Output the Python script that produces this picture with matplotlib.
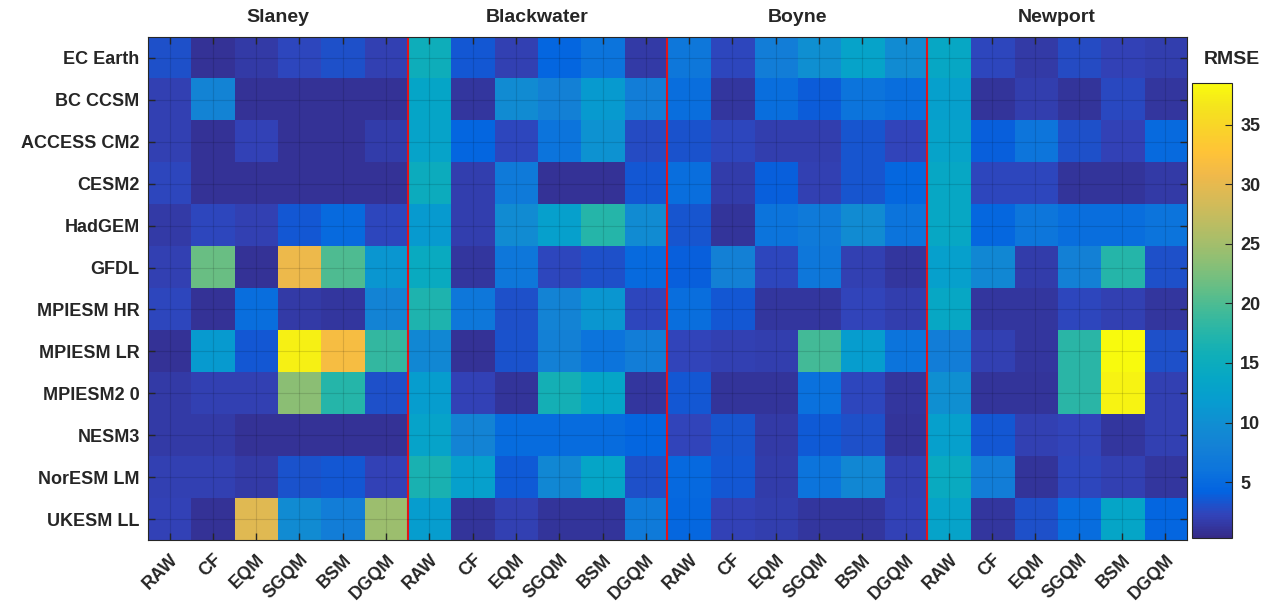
import numpy as np
import matplotlib.pyplot as plt
from matplotlib.colors import LinearSegmentedColormap

plt.rcParams['font.family'] = ['Liberation Sans', 'DejaVu Sans']
plt.rcParams['text.color'] = '#262626'
plt.rcParams['xtick.color'] = '#262626'
plt.rcParams['ytick.color'] = '#262626'

# data
models = ['EC Earth', 'BC CCSM', 'ACCESS CM2', 'CESM2', 'HadGEM', 'GFDL',
          'MPIESM HR', 'MPIESM LR', 'MPIESM2 0', 'NESM3', 'NorESM LM', 'UKESM LL']
methods = ['RAW', 'CF', 'EQM', 'SGQM', 'BSM', 'DGQM']
sites = ['Slaney', 'Blackwater', 'Boyne', 'Newport']

slaney = [
    [3.0, 1.0, 1.5, 2.5, 3.0, 2.0],
    [2.0, 8.5, 1.0, 1.0, 1.0, 1.0],
    [2.0, 1.0, 2.2, 1.0, 1.0, 1.7],
    [2.5, 1.0, 1.0, 1.0, 1.0, 1.0],
    [1.5, 2.5, 2.0, 3.5, 5.0, 2.5],
    [2.0, 21.5, 1.0, 30.5, 20.0, 11.0],
    [2.5, 1.0, 5.5, 1.5, 1.2, 8.5],
    [1.0, 11.5, 3.5, 37.5, 31.5, 18.5],
    [1.5, 2.0, 2.0, 23.5, 17.5, 3.0],
    [1.5, 1.5, 1.0, 1.0, 1.0, 1.0],
    [2.0, 2.0, 1.5, 3.2, 3.5, 2.2],
    [2.2, 1.0, 29.5, 9.5, 7.5, 24.5],
]
blackwater = [
    [15.5, 3.5, 2.0, 4.5, 6.0, 1.5],
    [13.5, 1.2, 9.5, 8.0, 11.5, 7.5],
    [13.0, 4.5, 2.5, 6.0, 10.5, 2.8],
    [15.0, 1.8, 7.0, 1.0, 1.0, 3.5],
    [11.5, 1.8, 9.5, 12.5, 17.5, 9.5],
    [14.5, 1.2, 6.5, 2.5, 3.0, 5.0],
    [17.0, 6.5, 3.0, 8.5, 11.0, 2.5],
    [9.0, 1.0, 3.2, 8.0, 6.0, 7.5],
    [12.0, 2.2, 1.1, 16.0, 13.5, 1.3],
    [13.0, 8.5, 5.2, 5.2, 5.2, 4.5],
    [16.5, 12.5, 3.7, 9.0, 13.5, 3.0],
    [12.0, 1.1, 2.0, 1.1, 1.1, 7.0],
]
boyne = [
    [6.5, 2.5, 7.5, 10.0, 13.0, 9.5],
    [5.5, 1.2, 5.5, 3.8, 6.0, 5.5],
    [3.2, 2.5, 1.8, 1.8, 3.3, 2.3],
    [5.5, 1.7, 4.0, 2.0, 3.3, 4.7],
    [3.3, 1.1, 6.0, 7.0, 9.5, 6.0],
    [4.0, 8.0, 2.5, 6.5, 2.0, 1.3],
    [5.5, 3.5, 1.2, 1.2, 2.3, 1.8],
    [2.3, 2.0, 1.8, 19.5, 12.0, 6.0],
    [3.5, 1.1, 1.1, 5.7, 2.5, 1.2],
    [2.3, 3.3, 1.6, 3.6, 3.1, 1.1],
    [4.8, 3.5, 1.7, 6.0, 9.0, 2.0],
    [4.7, 2.2, 1.8, 1.2, 1.2, 2.2],
]
newport = [
    [14.0, 2.5, 1.5, 2.7, 2.2, 1.8],
    [12.5, 1.1, 1.8, 1.1, 2.6, 1.2],
    [13.0, 4.0, 6.2, 3.0, 2.2, 5.0],
    [14.0, 2.5, 2.4, 1.1, 1.1, 1.6],
    [14.0, 4.7, 6.3, 5.5, 5.5, 6.0],
    [12.5, 9.0, 1.7, 8.0, 17.5, 3.0],
    [14.0, 1.2, 1.3, 2.5, 2.0, 1.3],
    [7.5, 2.0, 1.2, 17.8, 38.5, 3.0],
    [10.0, 1.1, 1.1, 17.8, 37.8, 2.0],
    [12.5, 3.5, 2.0, 2.3, 1.2, 2.0],
    [14.5, 7.5, 1.1, 2.5, 2.0, 1.3],
    [13.0, 1.2, 3.0, 5.3, 13.5, 4.5],
]

# parula-like colormap
parula_pts = [
    [0.2081, 0.1663, 0.5292], [0.1959, 0.2645, 0.7279], [0.0117, 0.3875, 0.8820],
    [0.0498, 0.4586, 0.8641], [0.0779, 0.5040, 0.8384], [0.0641, 0.5570, 0.8240],
    [0.0265, 0.6137, 0.8135], [0.0228, 0.6535, 0.7768], [0.0590, 0.6838, 0.7254],
    [0.1453, 0.7098, 0.6646], [0.2586, 0.7317, 0.5954], [0.3953, 0.7459, 0.5244],
    [0.5300, 0.7491, 0.4661], [0.6473, 0.7456, 0.4188], [0.7525, 0.7384, 0.3768],
    [0.8507, 0.7299, 0.3360], [0.9450, 0.7261, 0.2886], [0.9990, 0.7653, 0.2164],
    [0.9789, 0.8271, 0.1633], [0.9589, 0.8949, 0.1132], [0.9763, 0.9831, 0.0538],
]
parula = LinearSegmentedColormap.from_list('parula', parula_pts, N=256)

data = np.hstack([np.array(slaney), np.array(blackwater), np.array(boyne), np.array(newport)])

fig = plt.figure(figsize=(12.69, 6.06), dpi=100)
ax = fig.add_axes([0.1166, 0.1089, 0.8188, 0.8301])
im = ax.imshow(data, cmap=parula, vmin=0.3, vmax=38.5, aspect='auto', interpolation='nearest')

nx = data.shape[1]
ax.set_xticks(np.arange(nx))
ax.set_xticklabels(methods * len(sites), rotation=45, ha='right', rotation_mode='anchor',
                   fontsize=13, fontweight='bold')
ax.set_yticks(np.arange(len(models)))
ax.set_yticklabels(models, fontsize=13, fontweight='bold')
ax.tick_params(direction='in', top=True, right=True, length=5, width=1, pad=6)
ax.tick_params(axis='x', pad=8)

# faint grid on top
ax.set_axisbelow(False)
ax.grid(True, color='black', alpha=0.12, lw=0.8)

# separators and site names
for i in range(1, len(sites)):
    ax.axvline(i * 6 - 0.5, color='#e0141c', lw=1.5)
for i, s in enumerate(sites):
    ax.text(i * 6 + 2.5, -0.75, s, ha='center', va='bottom', fontsize=14, fontweight='bold')

for sp in ax.spines.values():
    sp.set_color('#262626')

cax = fig.add_axes([0.9393, 0.112, 0.0315, 0.751])
cb = fig.colorbar(im, cax=cax, ticks=[5, 10, 15, 20, 25, 30, 35])
cb.ax.tick_params(labelsize=13, direction='in', length=5, pad=6)
for t in cb.ax.get_yticklabels():
    t.set_fontweight('bold')
cb.outline.set_color('#262626')
fig.text(1232 / 1269, 1 - 60 / 606, 'RMSE', ha='center', va='center', fontsize=14, fontweight='bold')

fig.savefig('out.png', dpi=100)
